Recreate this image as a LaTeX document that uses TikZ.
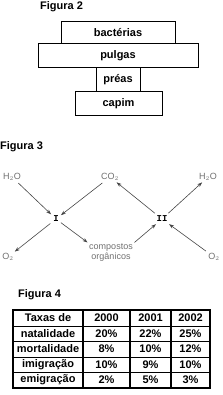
\documentclass[tikz,border=0pt]{standalone}
\usepackage{fontspec}
\setmainfont{Liberation Sans}
\newfontfamily\monofnt{Liberation Mono}
\usetikzlibrary{arrows.meta}
\definecolor{glabel}{HTML}{707070}
\definecolor{garrow}{HTML}{454545}
\begin{document}
\begin{tikzpicture}[x=1pt,y=-1pt,
  title/.style={font=\fontsize{11}{12}\selectfont\bfseries,anchor=west,inner sep=0pt},
  level/.style={draw=black,line width=1pt,font=\fontsize{11}{12}\selectfont\bfseries,inner sep=0pt},
  chem/.style={text=glabel,font=\fontsize{9}{10}\selectfont,inner sep=1.5pt},
  proc/.style={font=\monofnt\fontsize{9}{10}\selectfont\bfseries,inner sep=2pt},
  flow/.style={draw=garrow,line width=0.6pt,-{Stealth[length=5pt,width=3.5pt]}},
  cell/.style={font=\fontsize{11}{12}\selectfont\bfseries,inner sep=0pt},
  thick rule/.style={line width=1.4pt},
  thin rule/.style={line width=0.8pt}]
\useasboundingbox (0,0) rectangle (222,395);
% Figura 2
\node[title] (t2) at (40,7) {Figura 2};
\node[level,minimum width=114pt,minimum height=22pt] (bac) at (118,32.5) {bactérias};
\node[level,minimum width=160pt,minimum height=24pt] (pul) at (118,55.5) {pulgas};
\node[level,minimum width=44pt,minimum height=24pt] (pre) at (118,79.5) {préas};
\node[level,minimum width=87pt,minimum height=24pt] (cap) at (118.5,103.5) {capim};
% Figura 3
\node[title] (t3) at (0,147) {Figura 3};
\node[chem] (h2oL) at (12,177) {H$_2$O};
\node[chem] (co2) at (110,177) {CO$_2$};
\node[chem] (h2oR) at (208,177) {H$_2$O};
\node[proc] (I) at (56,219) {I};
\node[proc] (II) at (162,219) {II};
\node[chem] (o2L) at (8,257) {O$_2$};
\node[chem,align=center,font=\fontsize{9}{10}\selectfont] (comp) at (111,253) {compostos\\orgânicos};
\node[chem] (o2R) at (214,257) {O$_2$};
\draw[flow,shorten <=1pt] (h2oL) -- (I);
\draw[flow,shorten <=1pt] (co2) -- (I);
\draw[flow,shorten <=1pt] (I) -- (o2L);
\draw[flow] (I) -- (comp.north west);
\draw[flow] (comp.north east) -- (II);
\draw[flow,shorten <=1pt] (II) -- (co2);
\draw[flow,shorten <=1pt] (II) -- (h2oR);
\draw[flow,shorten <=1pt] (o2R) -- (II);
% Figura 4
\node[title] (t4) at (18,295) {Figura 4};
\draw[thin rule] (13,326) -- (210,326) (13,341.5) -- (210,341.5) (13,357) -- (210,357) (13,372.5) -- (210,372.5);
\draw[thick rule] (83,310) -- (83,388) (130,310) -- (130,388) (171,310) -- (171,388);
\draw[thick rule] (13,310) rectangle (210,388);
\node[cell] (c11) at (48,318) {Taxas de};
\node[cell] (c12) at (106.5,318) {2000};
\node[cell] (c13) at (150.5,318) {2001};
\node[cell] (c14) at (190.5,318) {2002};
\node[cell] (c21) at (48,333.5) {natalidade};
\node[cell] (c22) at (106.5,333.5) {20\%};
\node[cell] (c23) at (150.5,333.5) {22\%};
\node[cell] (c24) at (190.5,333.5) {25\%};
\node[cell] (c31) at (48,349) {mortalidade};
\node[cell] (c32) at (106.5,349) {8\%};
\node[cell] (c33) at (150.5,349) {10\%};
\node[cell] (c34) at (190.5,349) {12\%};
\node[cell] (c41) at (48,364.5) {imigração};
\node[cell] (c42) at (106.5,364.5) {10\%};
\node[cell] (c43) at (150.5,364.5) {9\%};
\node[cell] (c44) at (190.5,364.5) {10\%};
\node[cell] (c51) at (48,380) {emigração};
\node[cell] (c52) at (106.5,380) {2\%};
\node[cell] (c53) at (150.5,380) {5\%};
\node[cell] (c54) at (190.5,380) {3\%};
\end{tikzpicture}
\end{document}
